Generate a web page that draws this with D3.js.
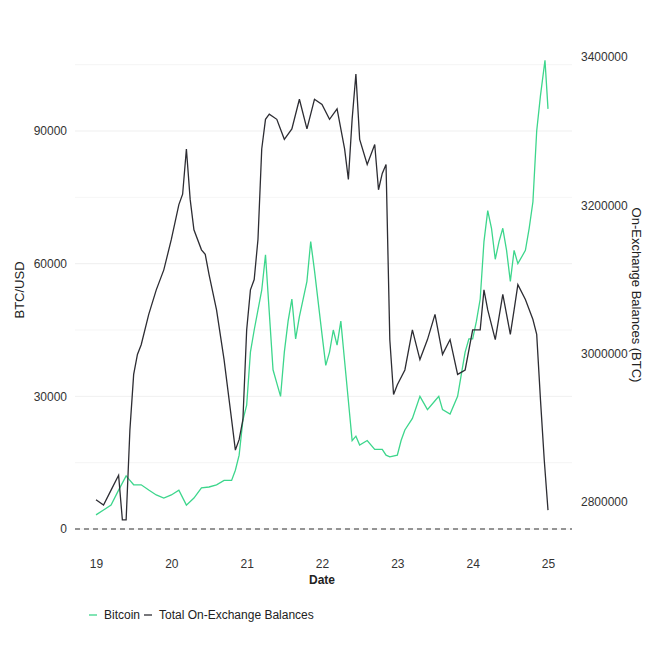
<!DOCTYPE html>
<html><head><meta charset="utf-8">
<script src="https://cdn.jsdelivr.net/npm/d3@7"></script>
<style>body{margin:0;background:#fff;font-family:"Liberation Sans",Arial,sans-serif}</style>
</head><body><svg id="c" width="661" height="661"></svg>
<script>
const years = [19.0,19.1,19.2,19.3,19.35,19.4,19.45,19.5,19.55,19.6,19.7,19.8,19.9,20.0,20.1,20.15,20.2,20.25,20.3,20.4,20.45,20.5,20.6,20.7,20.8,20.85,20.9,20.95,21.0,21.05,21.1,21.15,21.2,21.25,21.3,21.4,21.5,21.6,21.7,21.8,21.85,21.9,22.0,22.1,22.2,22.3,22.35,22.4,22.45,22.5,22.6,22.7,22.75,22.8,22.85,22.9,22.95,23.0,23.1,23.2,23.3,23.4,23.5,23.6,23.7,23.8,23.9,24.0,24.1,24.15,24.2,24.3,24.4,24.5,24.55,24.6,24.7,24.8,24.85,24.9,24.95,25.0];
const balances = [2803000,2796000,2816000,2836000,2776000,2776000,2897000,2972000,2999000,3012000,3053000,3086000,3113000,3154000,3201000,3215000,3276000,3208000,3167000,3140000,3134000,3107000,3059000,2992000,2911000,2870000,2884000,2911000,3032000,3086000,3100000,3154000,3276000,3316000,3323000,3316000,3289000,3303000,3343000,3303000,3323000,3343000,3336000,3316000,3330000,3276000,3235000,3316000,3377000,3289000,3255000,3282000,3221000,3243000,3255000,3019000,2945000,2958000,2978000,3032000,2992000,3019000,3053000,2999000,3019000,2972000,2978000,3032000,3032000,3086000,3059000,3019000,3080000,3026000,3059000,3093000,3073000,3046000,3026000,2938000,2857000,2789000];
const btcYears = [19.0,19.1,19.2,19.3,19.4,19.45,19.5,19.6,19.7,19.8,19.9,20.0,20.1,20.2,20.3,20.4,20.5,20.6,20.7,20.8,20.85,20.9,20.95,21.0,21.05,21.1,21.2,21.25,21.3,21.35,21.4,21.45,21.5,21.55,21.6,21.65,21.7,21.8,21.85,21.9,22.0,22.05,22.1,22.15,22.2,22.25,22.3,22.35,22.4,22.45,22.5,22.6,22.7,22.8,22.85,22.9,23.0,23.05,23.1,23.2,23.3,23.4,23.5,23.55,23.6,23.7,23.8,23.85,23.9,23.95,24.0,24.05,24.1,24.15,24.2,24.25,24.3,24.35,24.4,24.45,24.5,24.55,24.6,24.7,24.75,24.8,24.85,24.9,24.96,25.0];
const btcPrice = [3200,4300,5400,8800,12000,11000,10000,10000,8800,7700,7000,7700,8800,5400,7000,9300,9500,10000,11000,11000,13300,16700,24600,28000,40000,45000,54000,62000,49000,36000,33000,30000,40000,47000,52000,43000,48000,56000,65000,58500,44000,37000,40000,45000,41600,47000,38000,29000,20000,21000,19000,20000,18000,18000,16700,16300,16700,20000,22400,25000,30000,27000,29000,30000,27000,26000,30000,35000,40000,43000,43000,47000,52000,65000,72000,68000,61000,65000,68000,63000,56000,63000,60000,63000,68000,74000,90000,98000,106000,95000];
const leftTicks = [0,30000,60000,90000];
const rightTicks = [2800000,3000000,3200000,3400000];
const xTicks = [19,20,21,22,23,24,25];

const svg = d3.select("#c");
const x = d3.scaleLinear().domain([19,25]).range([96,548]);
const yL = d3.scaleLinear().domain([0,90000]).range([529,131]);
const yR = d3.scaleLinear().domain([2800000,3400000]).range([502,57]);
const x0=75, x1=572;
const grid = d3.range(0,120000,15000);
svg.append("g").selectAll("line").data(grid).join("line")
  .attr("x1",x0).attr("x2",x1).attr("y1",d=>yL(d)).attr("y2",d=>yL(d))
  .attr("stroke","#ebebeb").attr("stroke-width",d=>d%30000?0.5:0.8);
svg.append("line").attr("x1",x0).attr("x2",x1).attr("y1",yL(0)).attr("y2",yL(0))
  .attr("stroke","#333").attr("stroke-dasharray","5,4").attr("stroke-width",1.2);

function ax(g){g.select(".domain").remove();g.selectAll("line").remove();g.selectAll("text").attr("fill","#333").attr("font-size","12px");}
svg.append("g").attr("transform","translate(70,0)").call(d3.axisLeft(yL).tickValues(leftTicks).tickFormat(d3.format("d")).tickSize(0)).call(ax);
svg.append("g").attr("transform","translate(578,0)").call(d3.axisRight(yR).tickValues(rightTicks).tickFormat(d3.format("d")).tickSize(0)).call(ax);
svg.append("g").attr("transform","translate(0,556)").call(d3.axisBottom(x).tickValues(xTicks).tickFormat(d3.format("d")).tickSize(0)).call(ax);

svg.append("path").datum(btcYears.map((t,i)=>[t,btcPrice[i]]))
  .attr("d",d3.line().x(d=>x(d[0])).y(d=>yL(d[1]))).attr("fill","none").attr("stroke","#3dd68c").attr("stroke-width",1.3);
svg.append("path").datum(years.map((t,i)=>[t,balances[i]]))
  .attr("d",d3.line().x(d=>x(d[0])).y(d=>yR(d[1]))).attr("fill","none").attr("stroke","#2d2d33").attr("stroke-width",1.3);

svg.append("text").attr("x",322).attr("y",584).attr("text-anchor","middle").attr("font-size","12px").attr("font-weight","bold").attr("fill","#222").text("Date");
svg.append("text").attr("transform","translate(24,290) rotate(-90)").attr("text-anchor","middle").attr("font-size","13px").attr("fill","#222").text("BTC/USD");
svg.append("text").attr("transform","translate(632,295) rotate(90)").attr("text-anchor","middle").attr("font-size","13px").attr("fill","#222").text("On-Exchange Balances (BTC)");

const leg=[["Bitcoin","#3dd68c",89],["Total On-Exchange Balances","#2d2d33",144]];
leg.forEach(([t,c,lx])=>{
  svg.append("line").attr("x1",lx).attr("x2",lx+8).attr("y1",615).attr("y2",615).attr("stroke",c).attr("stroke-width",1.3);
  svg.append("text").attr("x",lx+15).attr("y",619).attr("font-size","12px").attr("fill","#222").text(t);
});
</script></body></html>
